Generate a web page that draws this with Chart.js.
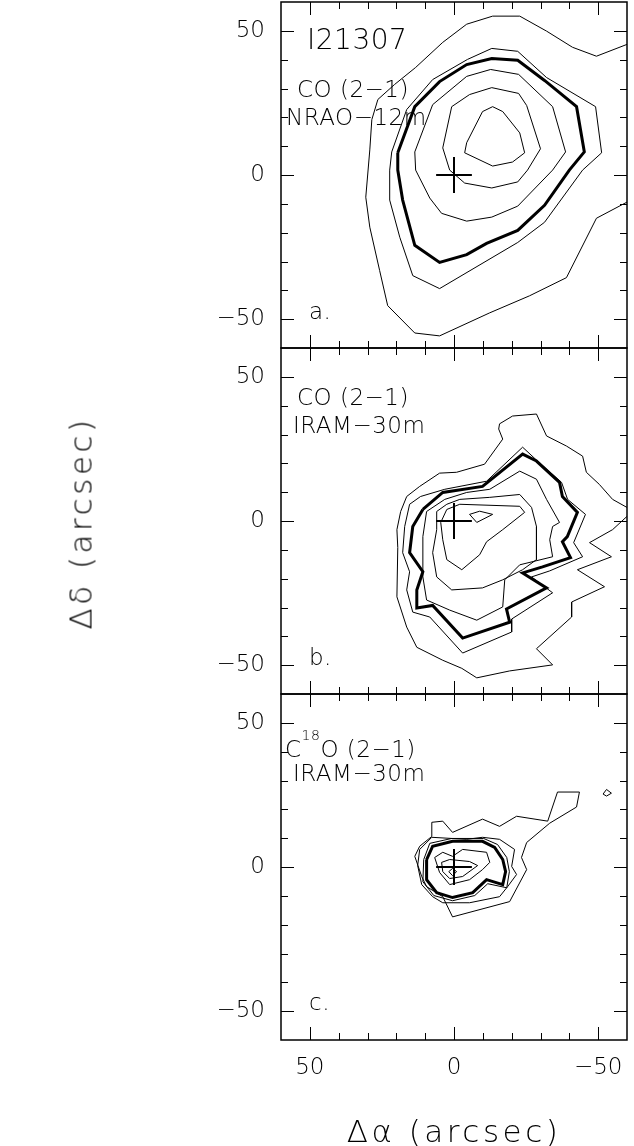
<!DOCTYPE html>
<html>
<head>
<meta charset="utf-8">
<script src="https://cdn.jsdelivr.net/npm/chart.js@4.4.1/dist/chart.umd.min.js"></script>
<style>
    body { margin: 0; background: #fff; width: 634px; height: 1146px; overflow: hidden; position: relative; }
    canvas { position: absolute; left: 0; }
    .lbl { position: absolute; font-family: 'DejaVu Sans', sans-serif; font-weight: 200; line-height: 1;
           white-space: nowrap; color: #000; font-size: 23px; letter-spacing: 0.5px; }
    .title { font-size: 31px; letter-spacing: 3.5px; transform: translate(-50%, -50%); }
    .rot { transform: translate(-50%, -50%) rotate(-90deg); }
</style>
</head>
<body>
<canvas id="panel-a" width="634" height="426" style="top:-38px"></canvas>
<canvas id="panel-b" width="634" height="426" style="top:308px"></canvas>
<canvas id="panel-c" width="634" height="492" style="top:654px"></canvas>

<div class="lbl" style="left:307px;top:26px;font-size:28px">I21307</div>
<div class="lbl" style="left:297px;top:78px">CO (2−1)</div>
<div class="lbl" style="left:286px;top:106px">NRAO−12m</div>
<div class="lbl" style="left:309px;top:300px">a.</div>

<div class="lbl" style="left:297px;top:386px">CO (2−1)</div>
<div class="lbl" style="left:293px;top:414px">IRAM−30m</div>
<div class="lbl" style="left:309px;top:646px">b.</div>

<div class="lbl" style="left:285px;top:738px">C<span style="font-size:14px;position:relative;top:-17px">18</span>O (2−1)</div>
<div class="lbl" style="left:293px;top:762px">IRAM−30m</div>
<div class="lbl" style="left:309px;top:991px">c.</div>

<div class="lbl title" style="left:454px;top:1131px">Δα (arcsec)</div>
<div class="lbl title rot" style="left:81px;top:523px">Δδ (arcsec)</div>

<script>
// Offsets in arcsec: [Δα, Δδ]

// axis setup
const axisMin = -60;
const axisMax = 60;
const tickValues = [-50, -40, -30, -20, -10, 0, 10, 20, 30, 40, 50];
const labelledTicks = [-50, 0, 50];

// source position marker
const sourcePos = [0, 0];
const crossArm = 6.2;

// a. CO (2-1) NRAO-12m
const coNraoA1 = [[-60,45.3],[-49.4,41.2],[-41.1,44.3],[-32.1,49.9],[-22.8,55.1],[-13.4,55.1],[-4.4,52.3],[3.9,46],[13.3,37.3],[20.6,31.4],[26.4,26.2],[28.5,19.2],[29.2,8.7],[30.6,-7.7],[29.2,-18.1],[25.8,-33.1],[23,-45.3],[13.6,-54.8],[5,-55.8],[-12.4,-47.8],[-26.2,-41.9],[-39,-35.6],[-49.4,-15],[-60,-9.4]];
const coNraoA2 = [[21.6,8],[16.4,22.7],[7.4,33.1],[-4.7,40.1],[-13.1,43.9],[-22.1,42.9],[-32.1,33.8],[-49.1,23.7],[-51.2,7.7],[-44.6,1.7],[-31.4,-16.4],[-22.1,-23.4],[5,-39.4],[14.3,-34.9],[18.8,-21.6],[22.3,-8.7],[22.3,1.7]];
const coNraoA3 = [[19.5,7.7],[13.6,23.7],[5,32.4],[-4.4,38.3],[-13.1,40.4],[-22.1,39.8],[-31.4,32.8],[-42.5,23.7],[-45.2,8],[-40,1.7],[-31.4,-10.5],[-22.1,-19.2],[-11.3,-23.7],[-4.4,-27.6],[5,-30.3],[13.6,-24.4],[17.8,-8.7],[19.5,1.7]];
const coNraoA4 = [[13.6,8],[7.4,24.4],[-4.4,34.2],[-12.7,36.6],[-22.4,34.9],[-34.2,23.7],[-38.7,8],[-34.2,1.7],[-22.1,-10.8],[-13.1,-14.6],[-4.4,-16],[4.3,-13.3],[8.4,-8],[13.3,1.7]];
const coNraoA5 = [[3.9,9.4],[0.8,23.7],[-5.4,27.9],[-13.1,30.3],[-22.4,28.3],[-25.2,24.1],[-30,9.1],[-25.5,1.7],[-22.1,-2.4],[-13.1,-4.5],[-3.7,-2.8],[1.5,1.7]];
const coNraoA6 = [[-4.4,11.2],[-9.9,22],[-13.4,23.7],[-16.9,22],[-22.8,14.6],[-24.5,7.7],[-20.3,4.5],[-13.4,3.1],[-3.7,7.7]];

// b. CO (2-1) IRAM-30m
const coIramB1 = [[-60,1.6],[-55,-3],[-47,-7.5],[-54.6,-12.4],[-42.8,-16.9],[-52.2,-22.8],[-40.8,-28.1],[-40.8,-33.3],[-28.6,-44.3],[-34.2,-49.9],[-19.3,-52],[-7.9,-54.4],[-2.7,-51.1],[3.9,-48.3],[12.9,-43.8],[16.4,-36.8],[19.8,-26.3],[19.5,-9.2],[19.8,-3],[18.5,3.3],[16.4,8.5],[11.9,12],[5,16.6],[-0.9,16.9],[-10.6,19.7],[-16.9,28.4],[-15.5,31.9],[-15.8,33.7],[-20.3,36.4],[-28.6,37.1],[-32.1,29.5],[-39,26],[-44.6,22.5],[-45.9,16.9],[-50.4,12.7],[-55,7.5],[-60,4.7]];
const coIramB2 = [[11.6,8.5],[3.2,11],[-11.3,13.8],[-23.8,25.6],[-29.7,20.1],[-37.3,13.4],[-39.4,7.5],[-45.6,2.3],[-41.5,-7.5],[-44.6,-12.4],[-33.2,-17.3],[-26.9,-19.4],[-34.2,-24.9],[-20,-34],[-20,-38.5],[-3,-45.8],[8.4,-33.3],[14.3,-31.6],[16.4,-23.9],[15.4,-17.6],[17.8,-11],[17.1,-1.9],[15.4,5.8]];
const coIramB3 = [[10.8,4],[3.9,9.9],[-9.9,12],[-23.8,23.2],[-28.6,20.8],[-36.6,13.4],[-37.6,8.5],[-42.8,3],[-39.3,-5.4],[-37.6,-7.2],[-40.4,-12.7],[-30.7,-15.9],[-23.8,-18],[-32.1,-23.2],[-18.2,-30.5],[-19.3,-35.1],[-3,-40.6],[7.4,-29.3],[12.9,-30.2],[12.9,-23.9],[10.8,-17.6],[15.4,-11],[14.3,-1.9]];
const coIramB4 = [[9.5,3.3],[3.2,7.5],[-4.4,9.9],[-12.4,11],[-22.8,17.3],[-28.6,14.5],[-32.1,7.5],[-36.6,-0.5],[-34.2,-1.9],[-33.2,-6.5],[-34.2,-12.4],[-22.8,-15.2],[-17.6,-20.4],[-16.9,-29.8],[-7.9,-34.4],[1.5,-30.9],[9.5,-27.4],[10.8,-19.4],[10.8,-5.4]];
const coIramB5 = [[6,3.3],[2.5,5.8],[-2,7.5],[-12.4,8.2],[-22.8,9.2],[-26.9,4.7],[-28.6,-1.9],[-28.6,-7.5],[-28.6,-13.4],[-23.8,-16.9],[-16.9,-20.4],[-9.9,-23.2],[0.8,-23.9],[6,-19.4],[7.4,-11],[6,-3]];
const coIramB6 = [[2.5,4],[-2,5.8],[-22.8,5.1],[-24.5,3],[-16.9,-3],[-11.3,-7.2],[-8.9,-11.7],[-2.7,-16.9],[2.5,-13.4],[3.9,-6.5],[4.6,-0.5]];
const coIramB7 = [[-5.4,2.3],[-8.9,3.4],[-13.4,2.3],[-7.9,-0.5]];

// c. C18O (2-1) IRAM-30m
const c18oC1 = [[7.7,15.5],[3.9,15.9],[0.5,12],[-9.9,16.6],[-15.8,14.1],[-21.7,17.6],[-32.5,15.9],[-35.9,26],[-43.5,26],[-42.5,20.8],[-33.2,15.2],[-25.2,8.5],[-23.4,3.3],[-25.2,-0.9],[-19.3,-12],[0.5,-17.3],[3.9,-10.3],[9.5,-6.8],[11.2,-3.3],[13.6,3.7],[11.9,7.2],[7.7,10.6]];
const c18oIsland = [[-51.7,25.3],[-52.9,26.9],[-54.6,25.6],[-52.9,24.6]];
const c18oC2 = [[11.9,6.1],[7.7,10.3],[-4.4,9.6],[-9.9,10.3],[-15.8,9.6],[-21,6.1],[-20,0.2],[-21.7,-2.6],[-18.6,-6.8],[-15.8,-10.3],[-5.4,-12.4],[3.9,-12.4],[7.4,-10.3],[11.2,-6.1],[12.6,0.5]];
const c18oC3 = [[10.5,2.6],[8.4,8.2],[0.8,9.9],[-10.3,9.9],[-15.1,7.8],[-18.3,3.3],[-19.2,-1.6],[-18.3,-7.2],[-11.7,-5.8],[-7.2,-9.9],[0.5,-11.7],[7,-9.9],[10.8,-5.1]];
const c18oC4 = [[9.5,2.6],[7.4,7.2],[0.5,8.9],[-9.9,8.9],[-14.1,6.8],[-16.9,2.6],[-17.9,-1.6],[-16.9,-6.1],[-11.3,-4.4],[-6.5,-8.9],[0.5,-10.6],[6,-8.9],[9.5,-4.4]];
const c18oC5 = [[6.7,3.3],[3.9,5.1],[0.5,3.7],[-3,6.1],[-11.3,5.1],[-12.4,1.6],[-9.9,-0.9],[-5.4,-4.4],[1.5,-6.1],[5,-1.9]];
const c18oC6 = [[4.3,1.6],[1.5,2.6],[-5.4,1.9],[-8.2,0.5],[-3,-3.3],[1.5,-4],[3.9,-1.6]];
const c18oC7 = [[1.8,-1.6],[0.5,-0.5],[-0.9,-1.6],[0.5,-3]];

const thinWidth = 1;
const thickWidth = 3;

function contour(points, width, closed) {
    const pts = closed ? points.concat([points[0]]) : points;
    return {
        data: pts.map(([x, y]) => ({ x, y })),
        showLine: true,
        borderColor: '#000',
        borderWidth: width,
        pointRadius: 0,
        tension: 0,
        fill: false
    };
}

function crossDatasets() {
    const [x0, y0] = sourcePos;
    return [
        contour([[x0 + crossArm, y0], [x0 - crossArm, y0]], 2, false),
        contour([[x0, y0 + crossArm], [x0, y0 - crossArm]], 2, false)
    ];
}

function formatTick(v) {
    return v < 0 ? '\u2212' + Math.abs(v) : String(v);
}

// inward ticks on all four sides + frame
const frameTicks = {
    id: 'frameTicks',
    afterDraw(chart) {
        const { ctx, chartArea: a, scales: { x, y } } = chart;
        ctx.save();
        ctx.strokeStyle = '#000';
        ctx.lineWidth = 1;
        ctx.beginPath();
        tickValues.forEach(v => {
            const len = v % 50 === 0 ? 13 : 7;
            const px = Math.round(x.getPixelForValue(v)) + 0.5;
            const py = Math.round(y.getPixelForValue(v)) + 0.5;
            ctx.moveTo(px, a.top); ctx.lineTo(px, a.top + len);
            ctx.moveTo(px, a.bottom); ctx.lineTo(px, a.bottom - len);
            ctx.moveTo(a.left, py); ctx.lineTo(a.left + len, py);
            ctx.moveTo(a.right, py); ctx.lineTo(a.right - len, py);
        });
        ctx.stroke();
        ctx.lineWidth = 1.5;
        ctx.strokeRect(a.left, a.top, a.right - a.left, a.bottom - a.top);
        ctx.restore();
    }
};

const tickFont = { family: "'DejaVu Sans', sans-serif", size: 23, weight: 200 };

function makePanel(id, datasets, showX) {
    return new Chart(document.getElementById(id), {
        type: 'scatter',
        data: { datasets },
        options: {
            responsive: false,
            animation: false,
            events: [],
            layout: { padding: { top: 40, right: 7, bottom: showX ? 0 : 40, left: 0 } },
            plugins: { legend: { display: false }, tooltip: { enabled: false } },
            scales: {
                x: {
                    type: 'linear', min: axisMin, max: axisMax, reverse: true,
                    display: showX,
                    grid: { display: false, drawTicks: false },
                    border: { display: false },
                    afterBuildTicks: s => { s.ticks = labelledTicks.map(v => ({ value: v })); },
                    afterFit: s => { s.height = showX ? 106 : 0; },
                    ticks: { padding: 14, font: tickFont, color: '#000', callback: formatTick, autoSkip: false, maxRotation: 0 }
                },
                y: {
                    type: 'linear', min: axisMin, max: axisMax,
                    grid: { display: false, drawTicks: false },
                    border: { display: false },
                    afterBuildTicks: s => { s.ticks = labelledTicks.map(v => ({ value: v })); },
                    afterFit: s => { s.width = 281; },
                    ticks: { padding: 16, font: tickFont, color: '#000', callback: formatTick, autoSkip: false }
                }
            }
        },
        plugins: [frameTicks]
    });
}

makePanel('panel-a', [
    contour(coNraoA1, thinWidth, false),
    contour(coNraoA2, thinWidth, true),
    contour(coNraoA3, thickWidth, true),
    contour(coNraoA4, thinWidth, true),
    contour(coNraoA5, thinWidth, true),
    contour(coNraoA6, thinWidth, true),
    ...crossDatasets()
], false);

makePanel('panel-b', [
    contour(coIramB1, thinWidth, false),
    contour(coIramB2, thinWidth, true),
    contour(coIramB3, thickWidth, true),
    contour(coIramB4, thinWidth, true),
    contour(coIramB5, thinWidth, true),
    contour(coIramB6, thinWidth, true),
    contour(coIramB7, thinWidth, true),
    ...crossDatasets()
], false);

makePanel('panel-c', [
    contour(c18oC1, thinWidth, true),
    contour(c18oIsland, thinWidth, true),
    contour(c18oC2, thinWidth, true),
    contour(c18oC3, thinWidth, true),
    contour(c18oC4, thickWidth, true),
    contour(c18oC5, thinWidth, true),
    contour(c18oC6, thinWidth, true),
    contour(c18oC7, thinWidth, true),
    ...crossDatasets()
], true);
</script>
</body>
</html>
